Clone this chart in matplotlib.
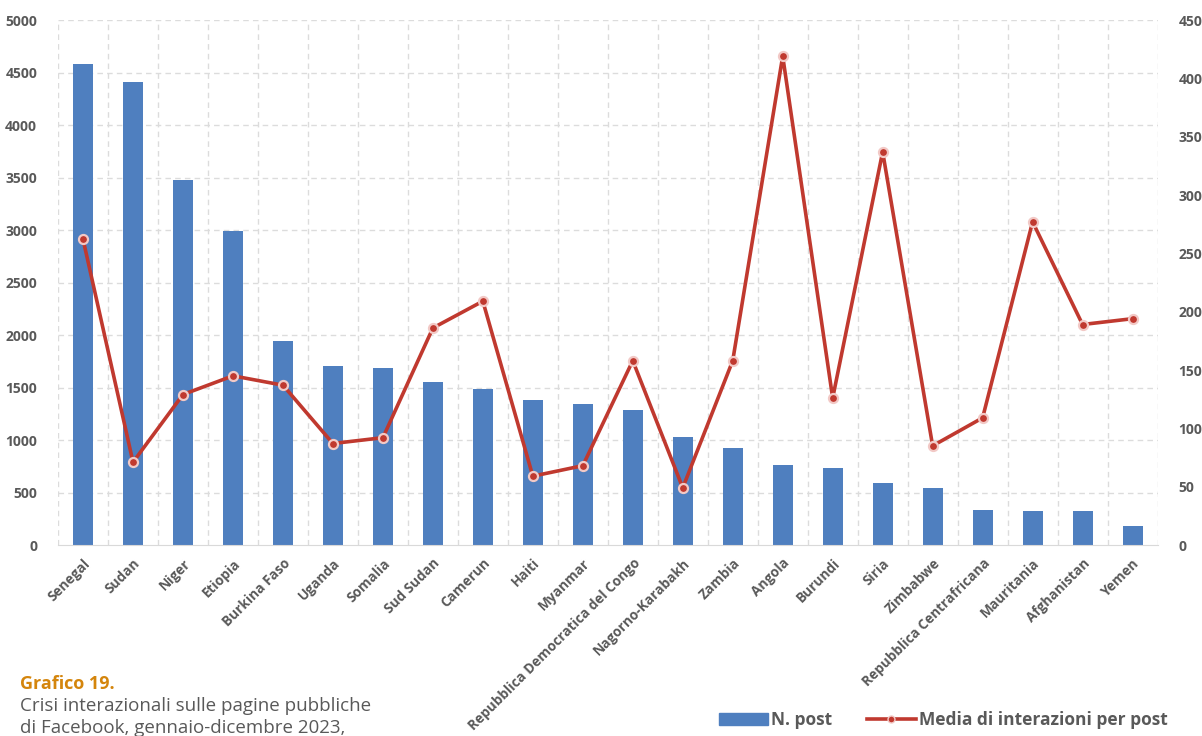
import matplotlib as mpl
mpl.use('Agg')
import numpy as np
import matplotlib.pyplot as plt
from matplotlib.lines import Line2D
from matplotlib.patches import Patch

# data
paesi = ['Senegal', 'Sudan', 'Niger', 'Etiopia', 'Burkina Faso', 'Uganda', 'Somalia',
         'Sud Sudan', 'Camerun', 'Haiti', 'Myanmar', 'Repubblica Democratica del Congo',
         'Nagorno-Karabakh', 'Zambia', 'Angola', 'Burundi', 'Siria', 'Zimbabwe',
         'Repubblica Centrafricana', 'Mauritania', 'Afghanistan', 'Yemen']
n_post = [4580, 4410, 3480, 2995, 1945, 1705, 1690, 1552, 1488, 1380, 1345, 1285,
          1030, 925, 765, 735, 590, 545, 335, 325, 325, 180]
media_interazioni = [262, 71, 129, 145, 137, 87, 92, 186, 209, 59, 68, 158,
                     49, 158, 419, 126, 337, 85, 109, 277, 189, 194]

blu = '#4f7fbf'
rosso = '#c0392f'
grigio = '#595959'

plt.rcParams['font.family'] = ['Open Sans', 'DejaVu Sans']

fig = plt.figure(figsize=(12.02, 7.36), dpi=100)
ax = fig.add_axes([0.0483, 0.2595, 0.9147, 0.7133])
ax2 = ax.twinx()

x = np.arange(len(paesi))
ax.bar(x, n_post, width=0.4, color=blu, zorder=2)
ax2.plot(x, media_interazioni, color=rosso, lw=2.6, marker='o', markersize=6.5,
         markerfacecolor=rosso, markeredgecolor='#f2c9c6', markeredgewidth=1.6, zorder=3)

ax.set_xlim(-0.5, len(paesi) - 0.5)
ax.set_ylim(0, 5000)
ax2.set_ylim(0, 450)
ax.set_yticks(np.arange(0, 5001, 500))
ax2.set_yticks(np.arange(0, 451, 50))

# dashed grid, vertical lines between categories
for v in np.arange(500, 5001, 500):
    ax.axhline(v, color='#dcdcdc', lw=1, ls=(0, (4, 3)), zorder=0)
for b in np.arange(-0.5, len(paesi), 1.0):
    ax.axvline(b, color='#dcdcdc', lw=1, ls=(0, (4, 3)), zorder=0)

ax.set_xticks(x)
ax.set_xticklabels(paesi, rotation=45, ha='right', rotation_mode='anchor',
                   fontsize=9.8, fontweight='bold', color=grigio)
for a in (ax, ax2):
    a.tick_params(length=0)
    for s in a.spines.values():
        s.set_visible(False)
ax.spines['bottom'].set_visible(True)
ax.spines['bottom'].set_color('#d9d9d9')
ax.tick_params(axis='y', labelsize=10, labelcolor=grigio, pad=15)
ax2.tick_params(axis='y', labelsize=10, labelcolor=grigio, pad=15)
for lab in ax.get_yticklabels() + ax2.get_yticklabels():
    lab.set_fontweight('bold')
ax.tick_params(axis='x', pad=8)

# legend
handles = [Patch(color=blu),
           Line2D([0], [0], color=rosso, lw=2.6, marker='o', markersize=5,
                  markerfacecolor=rosso, markeredgecolor='#f2c9c6')]
fig.legend(handles, ['N. post', 'Media di interazioni per post'], loc='center',
           bbox_to_anchor=(0.785, 0.022), ncol=2, frameon=False, handlelength=2.8,
           columnspacing=2, handletextpad=0.2,
           prop={'size': 12.5, 'weight': 'bold'}, labelcolor=grigio)

# caption
fig.text(0.017, 0.064, 'Grafico 19.', color='#d4850c', fontsize=13, fontweight='bold')
fig.text(0.017, 0.034, 'Crisi interazionali sulle pagine pubbliche', color=grigio, fontsize=13.5)
fig.text(0.017, 0.004, 'di Facebook, gennaio-dicembre 2023,', color=grigio, fontsize=13.5)

fig.savefig('out.png', dpi=100)
